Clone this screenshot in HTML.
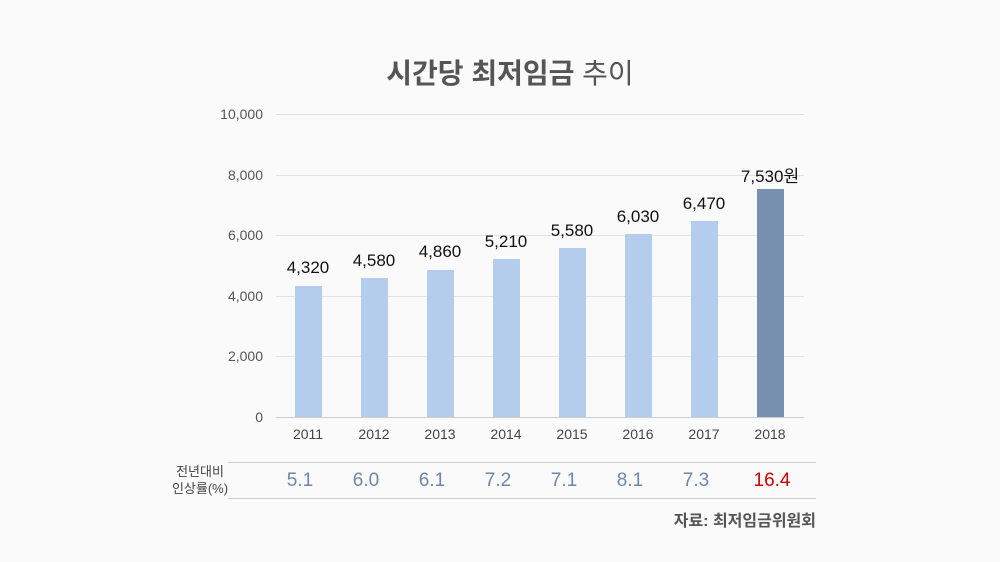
<!DOCTYPE html>
<html><head><meta charset="utf-8"><style>
body{margin:0;width:1000px;height:562px;background:#fafafa;position:relative;overflow:hidden;font-family:"Liberation Sans","Noto Sans CJK KR",sans-serif;}
.a{position:absolute;}
.g{position:absolute;left:276px;width:528px;height:1px;background:#e2e2e2;}
.yl{position:absolute;right:737px;font-size:14px;color:#555;transform:translateY(-50%);}
.bar{position:absolute;width:27px;background:#b4cdec;}
.v{position:absolute;width:100px;text-align:center;font-size:17px;color:#111;}
.x{position:absolute;width:60px;text-align:center;font-size:14px;color:#444;top:426px;}
.p{position:absolute;width:60px;text-align:center;font-size:19px;color:#6f86a8;top:470px;}
</style></head><body>
<div class="a" style="left:0;width:1000px;top:52px;text-align:center;font-size:28px;color:#555;font-weight:bold;padding-left:20px;box-sizing:border-box;">시간당 최저임금 <span style="font-weight:normal">추이</span></div>
<div class="g" style="top:114px"></div><div class="yl" style="top:114px">10,000</div>
<div class="g" style="top:175px"></div><div class="yl" style="top:175px">8,000</div>
<div class="g" style="top:235px"></div><div class="yl" style="top:235px">6,000</div>
<div class="g" style="top:296px"></div><div class="yl" style="top:296px">4,000</div>
<div class="g" style="top:356px"></div><div class="yl" style="top:356px">2,000</div>
<div class="g" style="top:417px;background:#ccc"></div><div class="yl" style="top:417px">0</div>

<div class="bar" style="left:295px;top:286px;height:131px"></div><div class="v" style="left:258px;top:258px">4,320</div>
<div class="bar" style="left:361px;top:278px;height:139px"></div><div class="v" style="left:324px;top:251px">4,580</div>
<div class="bar" style="left:427px;top:270px;height:147px"></div><div class="v" style="left:390px;top:242px">4,860</div>
<div class="bar" style="left:493px;top:259px;height:158px"></div><div class="v" style="left:456px;top:232px">5,210</div>
<div class="bar" style="left:559px;top:248px;height:169px"></div><div class="v" style="left:522px;top:221px">5,580</div>
<div class="bar" style="left:625px;top:234px;height:183px"></div><div class="v" style="left:588px;top:207px">6,030</div>
<div class="bar" style="left:691px;top:221px;height:196px"></div><div class="v" style="left:654px;top:194px">6,470</div>
<div class="bar" style="left:757px;top:189px;height:228px;background:#7890b0"></div><div class="v" style="left:720px;top:162px">7,530원</div>

<div class="x" style="left:278px">2011</div><div class="x" style="left:344px">2012</div><div class="x" style="left:410px">2013</div><div class="x" style="left:476px">2014</div><div class="x" style="left:542px">2015</div><div class="x" style="left:608px">2016</div><div class="x" style="left:674px">2017</div><div class="x" style="left:740px">2018</div>

<div class="a" style="left:228px;top:462px;width:588px;height:1px;background:#ccc"></div>
<div class="a" style="left:228px;top:498px;width:588px;height:1px;background:#ccc"></div>
<div class="a" style="left:160px;top:463px;width:80px;text-align:center;font-size:13px;color:#444;line-height:17px;">전년대비<br>인상률(%)</div>
<div class="p" style="left:270px">5.1</div><div class="p" style="left:336px">6.0</div><div class="p" style="left:402px">6.1</div><div class="p" style="left:468px">7.2</div><div class="p" style="left:534px">7.1</div><div class="p" style="left:600px">8.1</div><div class="p" style="left:666px">7.3</div><div class="p" style="left:742px;color:#c00">16.4</div>
<div class="a" style="right:184px;top:507px;font-size:16px;color:#555;font-weight:bold;">자료: 최저임금위원회</div>
</body></html>
